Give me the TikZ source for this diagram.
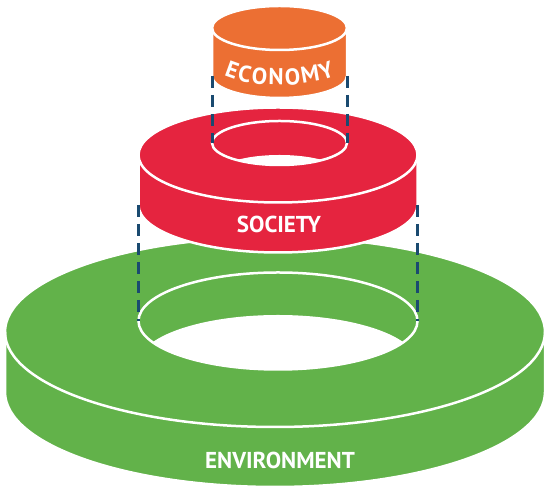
\documentclass[tikz,border=0pt]{standalone}
\usepackage{fontspec}
\setmainfont{PT Sans}
\usetikzlibrary{decorations.text}
\definecolor{econ}{RGB}{236,111,51}
\definecolor{soc}{RGB}{229,36,63}
\definecolor{env}{RGB}{98,178,74}
\definecolor{linkblue}{RGB}{26,74,112}
\newcommand{\labelfont}{\bfseries\fontsize{23}{23}\selectfont}

\begin{document}
\begin{tikzpicture}[x=1pt,y=1pt,
    rim/.style={draw=white,line width=2.5pt},
    edge/.style={white,line width=2.5pt},
    link/.style={color=linkblue,line width=3pt,dash pattern=on 12pt off 7pt},
    tag/.style={text=white,font=\labelfont,inner sep=0pt}]
\useasboundingbox (0,0) rectangle (544,489);
% environment
\filldraw[rim,fill=env] (5,157) -- (5,97) arc[start angle=180,end angle=360,x radius=270pt,y radius=95pt]
     -- (545,157) arc[start angle=0,end angle=180,x radius=270pt,y radius=95pt] -- cycle;
\draw[edge] (5,157) arc[start angle=180,end angle=360,x radius=270pt,y radius=95pt];
\begin{scope}
  \clip (278,168) ellipse[x radius=139.5pt,y radius=48.5pt];
  \fill[white] (278,125.5) ellipse[x radius=139.5pt,y radius=48.5pt];
\end{scope}
\draw[edge] (278,168) ellipse[x radius=139.5pt,y radius=48.5pt];
% society
\filldraw[rim,fill=soc] (138.5,334) -- (138.5,284) arc[start angle=180,end angle=360,x radius=139.5pt,y radius=47.5pt]
     -- (417.5,334) arc[start angle=0,end angle=180,x radius=139.5pt,y radius=47.5pt] -- cycle;
\draw[edge] (138.5,334) arc[start angle=180,end angle=360,x radius=139.5pt,y radius=47.5pt];
\begin{scope}
  \clip (279.5,346) ellipse[x radius=67.5pt,y radius=22pt];
  \fill[white] (279.5,312) ellipse[x radius=67.5pt,y radius=22pt];
\end{scope}
\draw[edge] (279.5,346) ellipse[x radius=67.5pt,y radius=22pt];
% economy
\filldraw[rim,fill=econ] (212,461) -- (212,413) arc[start angle=180,end angle=360,x radius=67.5pt,y radius=22pt]
     -- (347,461) arc[start angle=0,end angle=180,x radius=67.5pt,y radius=22pt] -- cycle;
\draw[edge] (212,461) arc[start angle=180,end angle=360,x radius=67.5pt,y radius=22pt];

\coordinate (eco-l) at (212,413);
\coordinate (eco-r) at (347,413);
\coordinate (socin-l) at (212,346);
\coordinate (socin-r) at (347,346);
\coordinate (soc-l) at (138.5,284);
\coordinate (soc-r) at (417.5,284);
\coordinate (envin-l) at (138.5,168);
\coordinate (envin-r) at (417.5,168);
\draw[link] (eco-l) -- (socin-l);
\draw[link] (eco-r) -- (socin-r);
\draw[link] (soc-l) -- (envin-l);
\draw[link] (soc-r) -- (envin-r);

\path[decorate,decoration={text effects along path,text={ECONOMY},text align=center,
     text effects/.cd,text along path,
     characters={text=white,font=\labelfont,inner sep=0pt,anchor=base},
     character widths={font=\labelfont,inner xsep=0.9pt}}]
     (212,426) arc[start angle=180,end angle=360,x radius=67.5pt,y radius=22pt];
\node[tag,anchor=base] (soc-tag) at (279,256) {SOCIETY};
\node[tag,anchor=base] (env-tag) at (280,20) {ENVIRONMENT};
\end{tikzpicture}
\end{document}
